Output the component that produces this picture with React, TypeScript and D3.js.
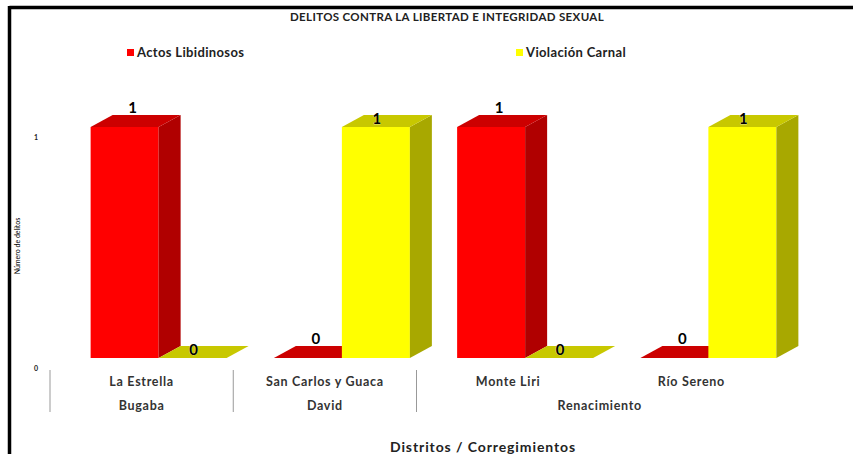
import React from 'react';
import * as d3 from 'd3';

const corregimientos = ['La Estrella', 'San Carlos y Guaca', 'Monte Liri', 'Río Sereno'];
const distritos = ['Bugaba', 'David', 'Renacimiento'];
const distritoDe = ['Bugaba', 'David', 'Renacimiento', 'Renacimiento'];
const seriesNames = ['Actos Libidinosos', 'Violación Carnal'];
const actosLibidinosos = [1, 0, 1, 0];
const violacionCarnal = [0, 1, 0, 1];
const yTicks = [0, 1];

const WIDTH = 853;
const HEIGHT = 454;
const FONT = 'Lato, "Open Sans", sans-serif';

const colors = [
  { front: '#ff0000', side: '#b00000', top: '#cc0000' },
  { front: '#ffff00', side: '#a8a800', top: '#c8c800' },
];

// 3D depth offsets
const DX = 22;
const DY = 12;
const SHIFT = 17;

const App = () => {
  const x = d3.scaleBand<string>().domain(corregimientos).range([50, 783]);
  const y = d3.scaleLinear().domain([0, 1]).range([358, 127]);
  const groupW = 136;
  const inner = d3.scaleBand<string>().domain(seriesNames).range([0, groupW]);
  const values = [actosLibidinosos, violacionCarnal];
  const base = y(0);

  const renderBar = (cat: string, ci: number, si: number) => {
    const v = values[si][ci];
    const x0 = (x(cat) as number) + (x.bandwidth() - groupW) / 2 + SHIFT + (inner(seriesNames[si]) as number);
    const w = inner.bandwidth();
    const x1 = x0 + w;
    const top = y(v);
    const c = colors[si];
    const topPath = d3.path();
    topPath.moveTo(x0, top);
    topPath.lineTo(x0 + DX, top - DY);
    topPath.lineTo(x1 + DX, top - DY);
    topPath.lineTo(x1, top);
    topPath.closePath();
    const sidePath = d3.path();
    sidePath.moveTo(x1, top);
    sidePath.lineTo(x1 + DX, top - DY);
    sidePath.lineTo(x1 + DX, base - DY);
    sidePath.lineTo(x1, base);
    sidePath.closePath();
    const cx = x0 + w / 2;
    const lx = si === 0 ? cx + 8 : cx + 1;
    const ly = si === 0 ? top - 14 : top - 3;
    return (
      <g key={`${cat}-${si}`}>
        {v > 0 && <rect x={x0} y={top} width={w} height={base - top} fill={c.front} />}
        {v > 0 && <path d={sidePath.toString()} fill={c.side} />}
        <path d={topPath.toString()} fill={c.top} />
        <text x={lx} y={ly} textAnchor="middle" fontFamily={FONT} fontWeight="bold" fontSize={15}
          fill="#000" stroke="#fff" strokeWidth={0.4} paintOrder="stroke">{v}</text>
      </g>
    );
  };

  // district spans for second row of axis labels
  const districtSpans = distritos.map((d) => {
    const cats = corregimientos.filter((_, i) => distritoDe[i] === d);
    const start = x(cats[0]) as number;
    const end = (x(cats[cats.length - 1]) as number) + x.bandwidth();
    return { d, start, end };
  });

  return (
    <svg width={WIDTH} height={HEIGHT} style={{ position: 'absolute', left: 0, top: 0, background: '#fff' }}>
      <rect x={0} y={0} width={WIDTH} height={HEIGHT} fill="#fff" />
      <line x1={9.5} y1={7.5} x2={WIDTH} y2={7.5} stroke="#000" strokeWidth={3.5} />
      <line x1={9.5} y1={6} x2={9.5} y2={HEIGHT} stroke="#000" strokeWidth={3.5} />

      <text x={447} y={21} textAnchor="middle" fontFamily={FONT} fontWeight="bold" fontSize={11.5}
        letterSpacing={0.35} fill="#222">
        DELITOS CONTRA LA LIBERTAD E INTEGRIDAD SEXUAL
      </text>

      {seriesNames.map((s, i) => {
        const lx = i === 0 ? 127 : 516;
        return (
          <g key={s}>
            <rect x={lx} y={49} width={7} height={7} fill={colors[i].front} />
            <text x={lx + 10} y={57} fontFamily={FONT} fontWeight="bold" fontSize={13}
              letterSpacing={0.35} fill="#222">{s}</text>
          </g>
        );
      })}

      {yTicks.map((t) => (
        <text key={t} x={36} y={y(t) + 13} textAnchor="middle" fontFamily={FONT} fontWeight="bold" fontSize={7} fill="#222">{t}</text>
      ))}
      <text transform="translate(20,246) rotate(-90)" textAnchor="middle" fontFamily={FONT} fontSize={7} fill="#000">
        Número de delitos
      </text>

      {corregimientos.map((cat, ci) => (
        <g key={cat}>
          {seriesNames.map((_, si) => renderBar(cat, ci, si))}
        </g>
      ))}

      {districtSpans.map((s) => (
        <line key={s.d} x1={s.start} y1={370} x2={s.start} y2={412} stroke="#999" strokeWidth={1} />
      ))}
      {corregimientos.map((cat) => (
        <text key={cat} x={(x(cat) as number) + x.bandwidth() / 2} y={386} textAnchor="middle"
          fontFamily={FONT} fontWeight="bold" fontSize={12.5} letterSpacing={0.7} fill="#333">{cat}</text>
      ))}
      {districtSpans.map((s) => (
        <text key={s.d} x={(s.start + s.end) / 2} y={410} textAnchor="middle"
          fontFamily={FONT} fontWeight="bold" fontSize={12.5} letterSpacing={0.7} fill="#333">{s.d}</text>
      ))}

      <text x={483} y={452} textAnchor="middle" fontFamily={FONT} fontWeight="bold" fontSize={14}
        letterSpacing={0.9} fill="#222">
        Distritos / Corregimientos
      </text>
    </svg>
  );
};

export default App;
